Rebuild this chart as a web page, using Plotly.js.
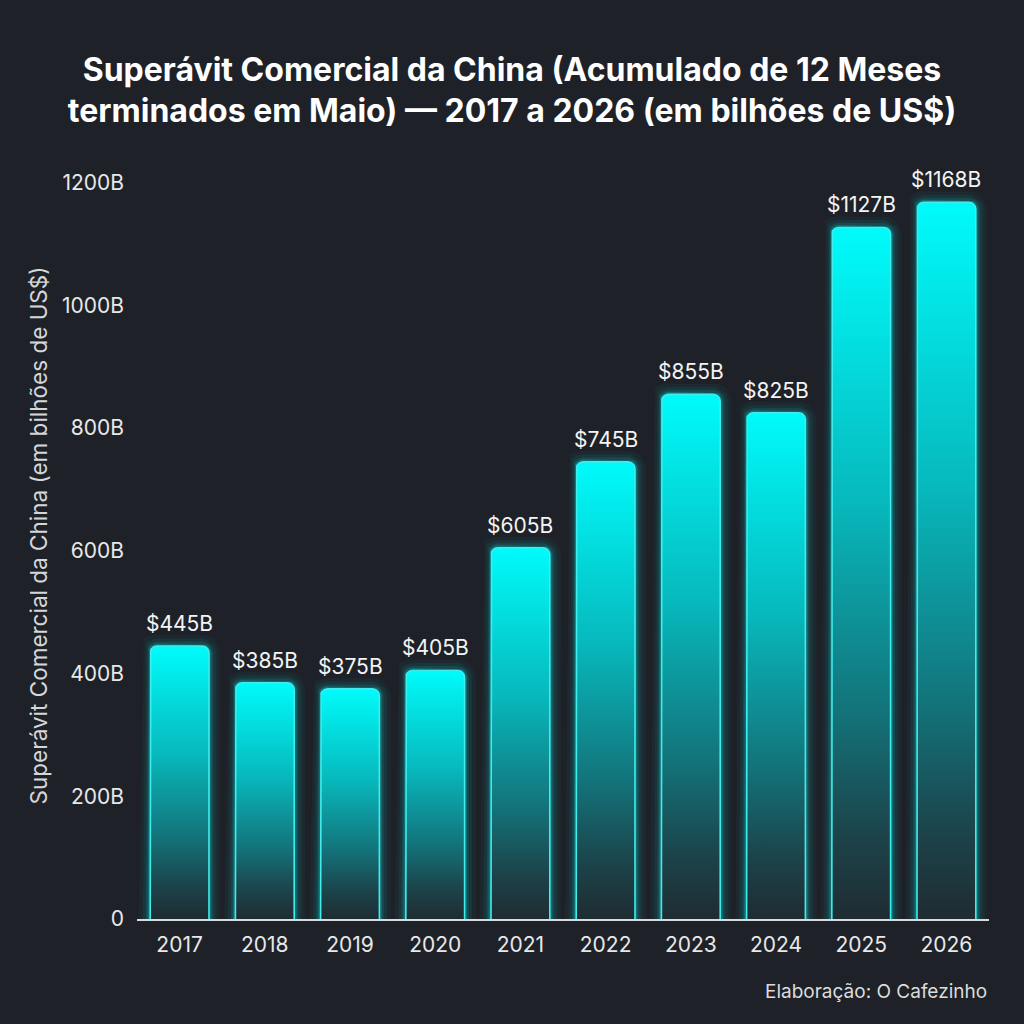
<!DOCTYPE html>
<html>
<head>
<meta charset="utf-8">
<script src="https://cdn.plot.ly/plotly-3.0.1.min.js"></script>
<style>html,body{margin:0;padding:0;background:#1e2228;}</style>
</head>
<body>
<div id="chart" style="width:1024px;height:1024px;"></div>
<script>
const years = ['2017','2018','2019','2020','2021','2022','2023','2024','2025','2026'];
const values = [445, 385, 375, 405, 605, 745, 855, 825, 1127, 1168];
const valueLabels = values.map(v => '$' + v + 'B');
const yTickVals = [0, 200, 400, 600, 800, 1000, 1200];
const yTickText = ['0', '200B', '400B', '600B', '800B', '1000B', '1200B'];

const FONT = 'Inter, Roboto, "Noto Sans", sans-serif';
const BG = '#1e2228';
const W = 1024, H = 1024;
const margin = {l: 137, r: 35, t: 152, b: 105};
const xRange = [-0.5, years.length - 0.5];
const yRange = [0, 1250];
const plotW = W - margin.l - margin.r;
const plotH = H - margin.t - margin.b;
const pxPerX = plotW / (xRange[1] - xRange[0]);
const pxPerY = plotH / (yRange[1] - yRange[0]);
const halfW = 0.345;
const cornerPx = 7;
const rx = cornerPx / pxPerX, ry = cornerPx / pxPerY;

function barOutline(i, v, closed) {
  const xs = [], ys = [];
  const l = i - halfW, r = i + halfW;
  xs.push(l); ys.push(0);
  const n = 8;
  for (let k = 0; k <= n; k++) {
    const a = Math.PI - (Math.PI / 2) * k / n;
    xs.push(l + rx + rx * Math.cos(a)); ys.push(v - ry + ry * Math.sin(a));
  }
  for (let k = 0; k <= n; k++) {
    const a = Math.PI / 2 - (Math.PI / 2) * k / n;
    xs.push(r - rx + rx * Math.cos(a)); ys.push(v - ry + ry * Math.sin(a));
  }
  xs.push(r); ys.push(0);
  if (closed) { xs.push(l); ys.push(0); }
  return {xs, ys};
}

const traces = [];
const glowLayers = [
  {w: 22, c: 'rgba(0,255,255,0.035)'},
  {w: 15, c: 'rgba(0,255,255,0.06)'},
  {w: 9, c: 'rgba(0,255,255,0.10)'},
  {w: 5, c: 'rgba(0,255,255,0.20)'}
];
values.forEach((v, i) => {
  const open = barOutline(i, v, false);
  glowLayers.forEach(g => {
    traces.push({type: 'scatter', mode: 'lines', x: open.xs, y: open.ys,
      line: {color: g.c, width: g.w, shape: 'linear'}, hoverinfo: 'skip', showlegend: false});
  });
});
values.forEach((v, i) => {
  const closed = barOutline(i, v, true);
  traces.push({type: 'scatter', mode: 'lines', x: closed.xs, y: closed.ys,
    fill: 'toself',
    fillgradient: {type: 'vertical', start: 0, stop: v,
      colorscale: [[0, '#1f2c32'], [0.12, '#1c434a'], [0.3, '#13737a'], [0.6, '#07b8bc'], [1, '#00fbfb']]},
    line: {color: 'rgba(0,0,0,0)', width: 0},
    hoverinfo: 'skip', showlegend: false});
  const open = barOutline(i, v, false);
  traces.push({type: 'scatter', mode: 'lines', x: open.xs, y: open.ys,
    line: {color: '#40ecec', width: 1.6}, hoverinfo: 'skip', showlegend: false});
});

const labelAnnotations = values.map((v, i) => ({
  x: i, y: v, xref: 'x', yref: 'y', text: valueLabels[i],
  showarrow: false, xanchor: 'center', yanchor: 'bottom', yshift: 8,
  font: {family: FONT, size: 21, color: '#f4f4f4'}
}));

const layout = {
  width: W, height: H, autosize: false,
  paper_bgcolor: BG, plot_bgcolor: BG,
  margin: margin,
  showlegend: false,
  font: {family: FONT, color: '#e8e8e8'},
  title: {
    text: '<b>Superávit Comercial da China (Acumulado de 12 Meses<br>terminados em Maio) — 2017 a 2026 (em bilhões de US$)</b>',
    font: {family: FONT, size: 32, color: '#ffffff'},
    x: 0.5, xanchor: 'center', xref: 'container',
    y: 0.921, yanchor: 'middle', yref: 'container'
  },
  xaxis: {
    range: xRange, tickvals: years.map((_, i) => i), ticktext: years,
    showgrid: false, zeroline: false, showline: true, linecolor: '#d8dcdc', linewidth: 1.5,
    ticks: '', ticklabelstandoff: 6,
    tickfont: {family: FONT, size: 21, color: '#e8e8e8'}, fixedrange: true
  },
  yaxis: {
    range: yRange, tickvals: yTickVals, ticktext: yTickText,
    showgrid: false, zeroline: false, showline: false, ticks: '', ticklabelstandoff: 12,
    tickfont: {family: FONT, size: 21, color: '#e8e8e8'},
    title: {text: 'Superávit Comercial da China (em bilhões de US$)',
      font: {family: FONT, size: 22.5, color: '#d4d6d8'}, standoff: 8},
    fixedrange: true
  },
  annotations: labelAnnotations.concat([{
    text: 'Elaboração: O Cafezinho', xref: 'paper', yref: 'paper',
    x: 1, xanchor: 'right', y: -0.095, yanchor: 'middle', showarrow: false,
    font: {family: FONT, size: 19, color: '#dcdcdc'}
  }])
};

Plotly.newPlot('chart', traces, layout, {displayModeBar: false, staticPlot: true});
</script>
</body>
</html>
